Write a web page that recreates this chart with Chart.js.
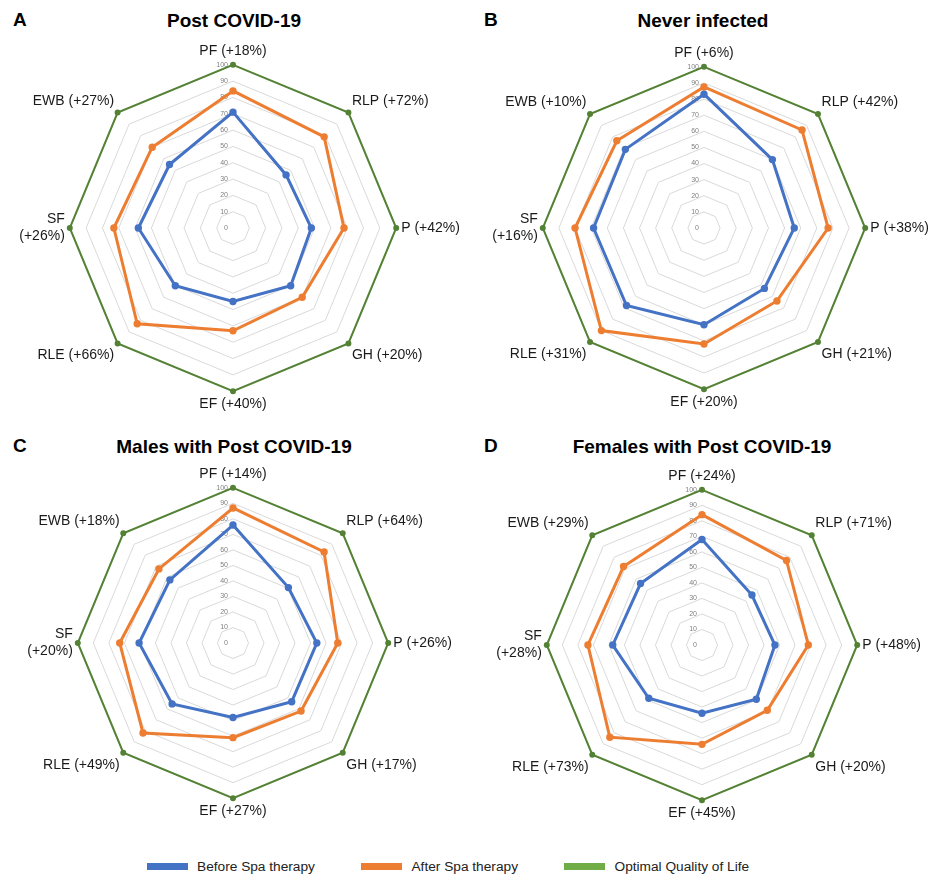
<!DOCTYPE html>
<html>
<head>
<meta charset="utf-8">
<script src="https://cdn.jsdelivr.net/npm/chart.js@4.4.1/dist/chart.umd.min.js"></script>
<style>
  body { margin: 0; background: #fff; font-family: "Liberation Sans", Arial, sans-serif; }
  #page { position: relative; width: 933px; height: 876px; overflow: hidden; }
  .panel { position: absolute; }
  .letter { position: absolute; font-weight: bold; font-size: 19px; color: #000; }
  .title { position: absolute; width: 400px; margin-left: -200px; text-align: center; font-weight: bold; font-size: 19px; color: #000; line-height: 22px; }
  #legend { position: absolute; left: 147px; top: 859px; display: flex; gap: 46.5px; font-size: 13.7px; color: #222; }
  #legend span.sw { display: inline-block; width: 41px; height: 7px; margin-right: 9px; vertical-align: middle; position: relative; top: -1px; }
</style>
</head>
<body>
<div id="page">
  <div class="letter" style="left:13px;top:9px">A</div>
  <div class="letter" style="left:484px;top:9px">B</div>
  <div class="letter" style="left:13px;top:435px">C</div>
  <div class="letter" style="left:484px;top:435px">D</div>
  <div class="title" id="titleA" style="left:234px;top:10px"></div>
  <div class="title" id="titleB" style="left:703px;top:10px"></div>
  <div class="title" id="titleC" style="left:234px;top:436px"></div>
  <div class="title" id="titleD" style="left:702px;top:436px"></div>
  <canvas class="panel" id="chartA" width="470" height="417" style="left:5px;top:1px"></canvas>
  <canvas class="panel" id="chartB" width="470" height="414" style="left:476px;top:2px"></canvas>
  <canvas class="panel" id="chartC" width="460" height="397" style="left:10px;top:428px"></canvas>
  <canvas class="panel" id="chartD" width="460" height="397" style="left:479px;top:430px"></canvas>
  <div id="legend"></div>
</div>
<script>
// SF-36 domains, clockwise from the top
const domains = ['PF', 'RLP', 'P', 'GH', 'EF', 'RLE', 'SF', 'EWB'];
const seriesNames = ['Before Spa therapy', 'After Spa therapy', 'Optimal Quality of Life'];
const seriesColors = ['#4472C4', '#ED7D31', '#548235'];
const legendColors = ['#4472C4', '#ED7D31', '#70AD47'];
const tickValues = [0, 10, 20, 30, 40, 50, 60, 70, 80, 90, 100];

const optimal = [100, 100, 100, 100, 100, 100, 100, 100];

// A - Post COVID-19
const titleA = 'Post COVID-19';
const gainsA = ['+18%', '+72%', '+42%', '+20%', '+40%', '+66%', '+26%', '+27%'];
const beforeA = [71, 46, 48, 50, 45, 50, 58, 55];
const afterA = [84, 79, 68, 60, 63, 83, 73, 70];

// B - Never infected
const titleB = 'Never infected';
const gainsB = ['+6%', '+42%', '+38%', '+21%', '+20%', '+31%', '+16%', '+10%'];
const beforeB = [83, 60, 56, 53, 60, 68, 68.5, 69];
const afterB = [87.5, 86, 77, 64, 72, 90, 80, 76.5];

// C - Males with Post COVID-19
const titleC = 'Males with Post COVID-19';
const gainsC = ['+14%', '+64%', '+26%', '+17%', '+27%', '+49%', '+20%', '+18%'];
const beforeC = [76, 50.5, 54, 53.5, 48, 55.5, 60.5, 57.5];
const afterC = [87, 83, 67.5, 62, 61, 82, 73, 67.5];

// D - Females with Post COVID-19
const titleD = 'Females with Post COVID-19';
const gainsD = ['+24%', '+71%', '+48%', '+20%', '+45%', '+73%', '+28%', '+29%'];
const beforeD = [68, 45.5, 47, 49.5, 44, 48.5, 57.5, 56];
const afterD = [84, 77, 68.5, 59.5, 64, 84, 73.5, 71.5];

function makeLabels(gains) {
    return domains.map((d, i) => {
        // SF sits on the left side and wraps in two lines
        if (d === 'SF') return [d, '(' + gains[i] + ')'];
        return d + ' (' + gains[i] + ')';
    });
}

// tick numbers sit just left of the vertical axis, 0 included
const sideTicks = {
    id: 'sideTicks',
    beforeDatasetsDraw(chart) {
        const r = chart.scales.r;
        const ctx = chart.ctx;
        ctx.save();
        ctx.font = '7px "Liberation Sans", Arial, sans-serif';
        ctx.fillStyle = '#7f7f7f';
        ctx.textAlign = 'right';
        ctx.textBaseline = 'middle';
        tickValues.forEach(v => {
            ctx.fillText(String(v), r.xCenter - 5, r.yCenter - r.getDistanceFromCenterForValue(v));
        });
        ctx.restore();
    }
};

function makeRadar(id, title, gains, before, after, padTop) {
    document.getElementById('title' + id.slice(-1)).textContent = title;
    const ctx = document.getElementById(id).getContext('2d');
    const values = [before, after, optimal];
    const datasets = values.map((v, i) => ({
        label: seriesNames[i],
        data: v,
        fill: false,
        borderColor: seriesColors[i],
        backgroundColor: seriesColors[i],
        pointBackgroundColor: seriesColors[i],
        pointBorderColor: seriesColors[i],
        borderWidth: i < 2 ? 3 : 2,
        pointRadius: i < 2 ? 2.2 : 2,
        tension: 0
    }));

    return new Chart(ctx, {
        type: 'radar',
        data: { labels: makeLabels(gains), datasets: datasets },
        options: {
            responsive: false,
            animation: false,
            layout: { padding: { top: padTop + 4, bottom: 4, left: 4, right: 4 } },
            plugins: {
                legend: { display: false },
                tooltip: { enabled: false }
            },
            scales: {
                r: {
                    min: 0,
                    max: 100,
                    angleLines: { display: false },
                    grid: { color: '#d9d9d9', lineWidth: 1 },
                    ticks: { stepSize: 10, display: false },
                    pointLabels: {
                        color: '#1a1a1a',
                        padding: 5,
                        font: { family: '"Liberation Sans", Arial, sans-serif', size: 14 }
                    }
                }
            }
        },
        plugins: [sideTicks]
    });
}

makeRadar('chartA', titleA, gainsA, beforeA, afterA, 39);
makeRadar('chartB', titleB, gainsB, beforeB, afterB, 39);
makeRadar('chartC', titleC, gainsC, beforeC, afterC, 35);
makeRadar('chartD', titleD, gainsD, beforeD, afterD, 35);

// shared legend
const legend = document.getElementById('legend');
seriesNames.forEach((name, i) => {
    const item = document.createElement('div');
    item.innerHTML = '<span class="sw" style="background:' + legendColors[i] + '"></span>' + name;
    legend.appendChild(item);
});
</script>
</body>
</html>
